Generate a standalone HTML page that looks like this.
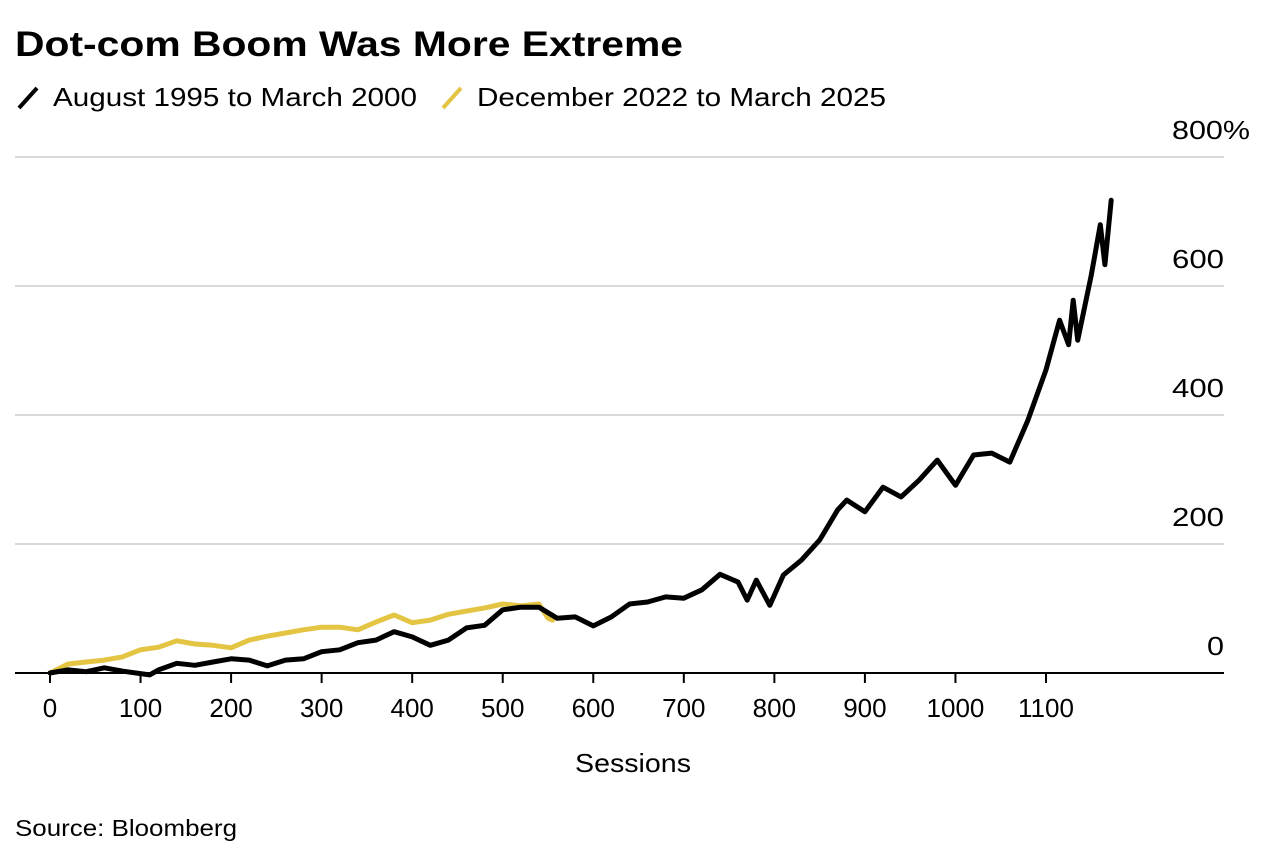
<!DOCTYPE html>
<html><head><meta charset="utf-8">
<style>
body{margin:0;background:#fff;font-family:"Liberation Sans",sans-serif;}
svg text{font-family:"Liberation Sans",sans-serif;}
</style></head>
<body>
<svg id="chart" width="1280" height="858" xmlns="http://www.w3.org/2000/svg">
<text x="15" y="56" font-size="35" font-weight="bold" fill="#000" textLength="668" lengthAdjust="spacingAndGlyphs">Dot-com Boom Was More Extreme</text>
<g>
<line x1="19" y1="108" x2="37" y2="88" stroke="#000" stroke-width="4"/>
<text x="53" y="106" font-size="26" fill="#000" textLength="364" lengthAdjust="spacingAndGlyphs">August 1995 to March 2000</text>
<line x1="443" y1="108" x2="461" y2="88" stroke="#e3c443" stroke-width="4"/>
<text x="477" y="106" font-size="26" fill="#000" textLength="409" lengthAdjust="spacingAndGlyphs">December 2022 to March 2025</text>
</g>
<g id="grid"></g>
<g id="xaxis"></g>
<g id="series"></g>
<text x="575" y="772" font-size="26" fill="#000" textLength="116" lengthAdjust="spacingAndGlyphs">Sessions</text>
<text x="15" y="836" font-size="23" fill="#000" textLength="222" lengthAdjust="spacingAndGlyphs">Source: Bloomberg</text>
</svg>
<script>
const yTicks=[0,200,400,600,800];
const yTickLabels=["0","200","400","600","800%"];
const xTicks=[0,100,200,300,400,500,600,700,800,900,1000,1100];
const dotcomSessions=[0,20,40,60,80,110,120,140,160,180,200,220,240,260,280,300,320,340,360,380,400,420,440,460,480,500,520,540,560,580,600,620,640,660,680,700,720,740,760,770,780,795,810,830,850,870,880,900,920,940,960,980,1000,1020,1040,1060,1080,1100,1115,1125,1130,1135,1150,1160,1165,1172];
const dotcomValues=[0,5,2,8,3,-3,5,15,12,17,22,20,11,20,22,33,36,47,51,64,56,43,51,70,74,98,102,102,85,87,73,87,107,110,118,116,129,153,141,113,144,105,152,175,206,253,268,250,288,273,299,330,291,338,341,327,392,470,547,509,578,516,617,695,633,733];
const aiSessions=[0,20,40,60,80,100,120,140,160,180,200,220,240,260,280,300,320,340,360,380,400,420,440,460,480,500,520,540,550,555];
const aiValues=[0,14,17,20,25,36,40,50,45,43,39,51,57,62,67,71,71,67,79,90,78,82,91,96,101,107,104,107,85,82];
const X=s=>50+s*(996/1100);
const Y=v=>673-v*(129/200);
const NS="http://www.w3.org/2000/svg";
function mk(tag,attrs,parent){const e=document.createElementNS(NS,tag);for(const k in attrs)e.setAttribute(k,attrs[k]);parent.appendChild(e);return e;}
const grid=document.getElementById('grid');
yTicks.forEach((t,i)=>{
 if(t!==0){const l=mk('line',{x1:15,x2:1224,y1:Y(t),y2:Y(t),stroke:'#d9d9d9','stroke-width':2},grid);
 
 }
 const lab=yTickLabels[i];
 const tx=mk('text',{x:(t===0?1207:1172),y:Y(t)-18,'font-size':26,fill:'#000',textLength:(lab.length===1?17:(lab.length===3?52:78)),lengthAdjust:'spacingAndGlyphs'},grid);
 tx.textContent=lab;
 
 
});
const xa=document.getElementById('xaxis');
const al=mk('line',{x1:15,x2:1224,y1:673,y2:673,stroke:'#000','stroke-width':2},xa);


xTicks.forEach(t=>{
 const tk=mk('line',{x1:X(t),x2:X(t),y1:673,y2:683,stroke:'#000','stroke-width':2},xa);
 
 
 const tx=mk('text',{x:X(t),y:717,'font-size':26,'text-anchor':'middle',fill:'#000'},xa);
 tx.textContent=t;
 
 
});
const sg=document.getElementById('series');
function line(xs,vs,color,name){
 const d=xs.map((s,i)=>(i?'L':'M')+X(s).toFixed(1)+' '+Y(vs[i]).toFixed(1)).join(' ');
 const p=mk('path',{d:d,fill:'none',stroke:color,'stroke-width':5,'stroke-linejoin':'round','stroke-linecap':'round'},sg);
 
 
}
line(aiSessions,aiValues,'#e3c443','series-2022-2025');
line(dotcomSessions,dotcomValues,'#000','series-1995-2000');
</script>
</body></html>
